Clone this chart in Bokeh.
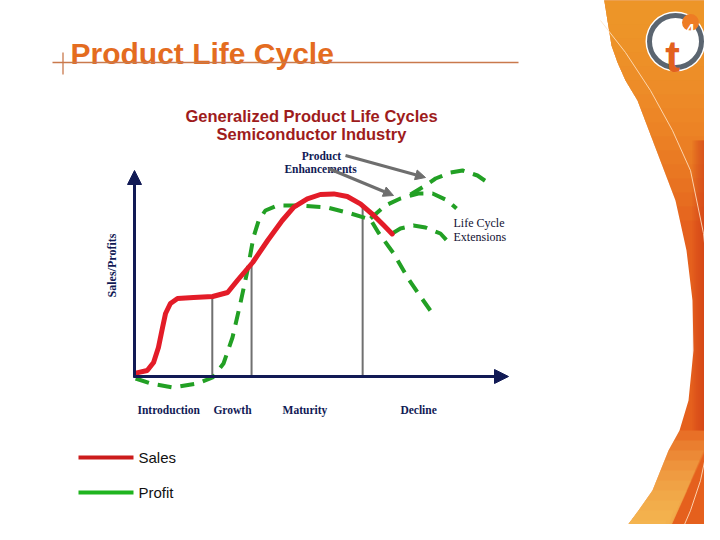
import numpy as np
from bokeh.plotting import figure
from bokeh.models import Range1d, Arrow, NormalHead
from bokeh.core.properties import value
from bokeh.embed import file_html
from bokeh.resources import INLINE

# ---------------- data (chart units: time 0-10, index 0-100) ----------------
sales_t = [0.03, 0.34, 0.51, 0.64, 0.75, 0.83, 0.96, 1.15, 1.58, 2.09, 2.49, 2.75,
           3.16, 3.56, 3.95, 4.26, 4.62, 4.97, 5.33, 5.69, 6.04, 6.40, 6.67, 6.89]
sales_v = [1.7, 3.0, 7.0, 14.5, 24.5, 31.5, 36.5, 39.0, 39.5, 40.0, 42.0, 48.0,
           57.0, 68.0, 78.0, 84.7, 88.8, 91.0, 91.3, 90.0, 86.3, 80.5, 75.5, 71.3]

profit_t = [0.03, 0.43, 1.04, 1.68, 2.09, 2.38, 2.62, 2.83, 3.02, 3.18, 3.32,
            3.50, 3.82, 4.44, 5.16, 5.78, 6.31, 6.52, 6.93, 7.30, 7.59, 7.91]
profit_v = [-1.0, -3.5, -5.5, -3.5, -0.5, 6.5, 19.5, 36.5, 53.0, 69.5, 78.0,
            83.0, 85.5, 85.5, 84.5, 81.5, 78.5, 72.0, 61.5, 49.5, 41.5, 33.0]

ext_mid_t = [6.31, 6.71, 7.11, 7.59, 7.97, 8.37, 8.61]
ext_mid_v = [79.0, 85.5, 89.0, 91.5, 91.5, 88.0, 84.0]
ext_top_t = [7.38, 7.78, 8.05, 8.45, 8.77, 9.17, 9.44]
ext_top_v = [91.0, 95.5, 99.0, 102.0, 103.0, 100.5, 97.0]
ext_low_t = [6.89, 7.11, 7.46, 7.78, 8.18, 8.40]
ext_low_v = [71.5, 74.0, 75.5, 74.5, 71.5, 67.0]

phases = ["Introduction", "Growth", "Maturity", "Decline"]
phase_label_t = [0.08, 2.11, 3.96, 7.11]
phase_bounds = [2.08, 3.13, 6.10]
legend_labels = ["Sales", "Profit"]

# ---------------- layout ----------------
W, H = 704, 524
X0, XS = 134.0, 37.4   # chart origin (picture px) and px per time unit
Y0, YS = 376.0, 2.0    # chart origin (picture px) and px per index unit

p = figure(width=W, height=H, output_backend="svg", toolbar_location=None,
           x_range=Range1d((0 - X0) / XS, (W - X0) / XS),
           y_range=Range1d((Y0 - H) / YS, (Y0 - 0) / YS),
           min_border=0, min_border_left=0, min_border_right=0,
           min_border_top=0, min_border_bottom=0)
p.extra_x_ranges = {"px": Range1d(0, W)}
p.extra_y_ranges = {"py": Range1d(H, 0)}
p.xaxis.visible = False
p.yaxis.visible = False
p.grid.visible = False
p.outline_line_color = None
p.background_fill_color = "white"
p.border_fill_color = "white"

PX = dict(x_range_name="px", y_range_name="py")

# ---------------- orange slide decoration ----------------
edge_x = [603, 607, 611, 617, 625, 637, 656, 675, 686, 692, 693, 688, 679, 668, 652, 638, 612]
edge_y = [-5, 20, 45, 62, 80, 100, 150, 200, 250, 300, 350, 400, 430, 450, 490, 510, 545]


def edge_at(y):
    return float(np.interp(y, edge_y, edge_x))


p.patch(edge_x + [730, 730], edge_y + [545, -5], fill_color="#e5601d", line_color=None, **PX)

# soft top glow: many stacked translucent bands
for ylim in range(220, 10, -14):
    ys = [y for y in edge_y if y < ylim] + [ylim]
    xs = [edge_at(y) for y in ys]
    p.patch(xs + [730, 730], ys + [ylim, -5], fill_color="#f7a630", fill_alpha=0.1,
            line_color=None, **PX)

# deeper red on the right side
for x_left in range(692, 704, 2):
    p.patch([x_left, 730, 730, x_left], [140, 140, 430, 430], fill_color="#cf3a16",
            fill_alpha=0.12, line_color=None, **PX)

# light bottom glow
for ylim in range(430, 530, 10):
    ys = [ylim] + [y for y in edge_y if y > ylim]
    xs = [edge_at(y) for y in ys]
    p.patch(xs + [xs[-1] + 50, xs[0] + 35], ys + [545, ylim], fill_color="#f8c860",
            fill_alpha=0.16, line_color=None, **PX)

# thin light curve
p.line([600, 625, 650, 672, 690, 703, 710, 712, 710, 700, 690, 675],
       [20, 52, 90, 130, 170, 233, 300, 350, 433, 480, 510, 545],
       line_color="#ffe3c4", line_width=1, line_alpha=0.85, **PX)

# logo
p.scatter([675], [41], marker="circle", size=60, fill_color="white", line_color=None, **PX)
p.scatter([675], [41], marker="circle", size=52, fill_color="white", line_color="#5b6570",
          line_width=5, **PX)
p.scatter([690], [22], marker="circle", size=17, fill_color="#ee7c24", line_color=None, **PX)
p.text([672], [56], text=["t"], text_font=value("Liberation Sans"), text_font_style="bold",
       text_font_size="44px", text_color="#e2611f", text_align="center",
       text_baseline="alphabetic", **PX)
p.text([690], [28], text=["4"], text_font=value("Liberation Sans"), text_font_style="bold",
       text_font_size="15px", text_color="white", text_align="center",
       text_baseline="alphabetic", **PX)

# slide title and rule
p.text([70], [53], text=["Product Life Cycle"], text_font=value("Liberation Sans"),
       text_font_style="bold", text_font_size="30px", text_color="#e46c1f",
       text_align="left", text_baseline="alphabetic", **PX)
p.line([52, 518], [62, 62], line_color="#c9794c", line_width=1.3, **PX)
p.line([62.5, 62.5], [52, 74], line_color="#c9794c", line_width=1.3, **PX)

# chart title
p.text([311, 311], [115, 133],
       text=["Generalized Product Life Cycles", "Semiconductor Industry"],
       text_font=value("Liberation Sans"), text_font_style="bold", text_font_size="16.5px",
       text_color="#9e1c1c", text_align="center", text_baseline="alphabetic", **PX)

# ---------------- chart ----------------
navy = "#111a55"
bound_h = np.interp(phase_bounds, sales_t, sales_v)
p.segment(x0=phase_bounds, y0=[0] * 3, x1=phase_bounds, y1=bound_h,
          line_color="#707070", line_width=2)

p.add_layout(Arrow(end=NormalHead(size=14, fill_color=navy, line_color=navy),
                   x_start=-0.03, y_start=0, x_end=10.0, y_end=0,
                   line_color=navy, line_width=3))
p.add_layout(Arrow(end=NormalHead(size=14, fill_color=navy, line_color=navy),
                   x_start=0, y_start=-0.5, x_end=0, y_end=103,
                   line_color=navy, line_width=3))

green = "#22a024"
dash = "14 9"
for tt, vv in [(profit_t, profit_v), (ext_mid_t, ext_mid_v),
               (ext_top_t, ext_top_v), (ext_low_t, ext_low_v)]:
    p.line(tt, vv, line_color=green, line_width=4, line_dash=dash, line_cap="butt")

p.line(sales_t, sales_v, line_color="#e31c28", line_width=5, line_join="round",
       line_cap="round")

gray = "#6e6e6e"
for xs, ys, xe, ye in [(345, 155, 425, 177), (328, 168, 393, 195)]:
    p.add_layout(Arrow(end=NormalHead(size=10, fill_color=gray, line_color=gray),
                       x_start=xs, y_start=ys, x_end=xe, y_end=ye,
                       line_color=gray, line_width=3, **PX))

serif = value("Liberation Serif")
p.text(phase_label_t, [-16.5] * 4, text=phases, text_font=serif, text_font_style="bold",
       text_font_size="11.5px", text_color=navy, text_align="left",
       text_baseline="alphabetic")
p.text([111], [265], text=["Sales/Profits"], angle=np.pi / 2, text_font=serif,
       text_font_style="bold", text_font_size="12px", text_color=navy,
       text_align="center", text_baseline="middle", **PX)
p.text([321, 320], [155, 168], text=["Product", "Enhancements"], text_font=serif,
       text_font_style="bold", text_font_size="11.5px", text_color=navy,
       text_align="center", text_baseline="alphabetic", **PX)
p.text([453, 453], [222, 236], text=["Life Cycle", "Extensions"], text_font=serif,
       text_font_size="12px", text_color="#111133",
       text_align="left", text_baseline="alphabetic", **PX)

# ---------------- legend ----------------
leg_y = [457, 492]
leg_col = ["#cc1c1c", "#1fb41f"]
p.segment(x0=[78, 78], y0=leg_y, x1=[133, 133], y1=leg_y, line_color=leg_col,
          line_width=4, **PX)
p.text([138, 138], leg_y, text=legend_labels, text_font=value("Liberation Sans"),
       text_font_size="15px", text_color="#111111", text_align="left",
       text_baseline="middle", **PX)

open("out.html", "w").write(file_html(p, INLINE))
